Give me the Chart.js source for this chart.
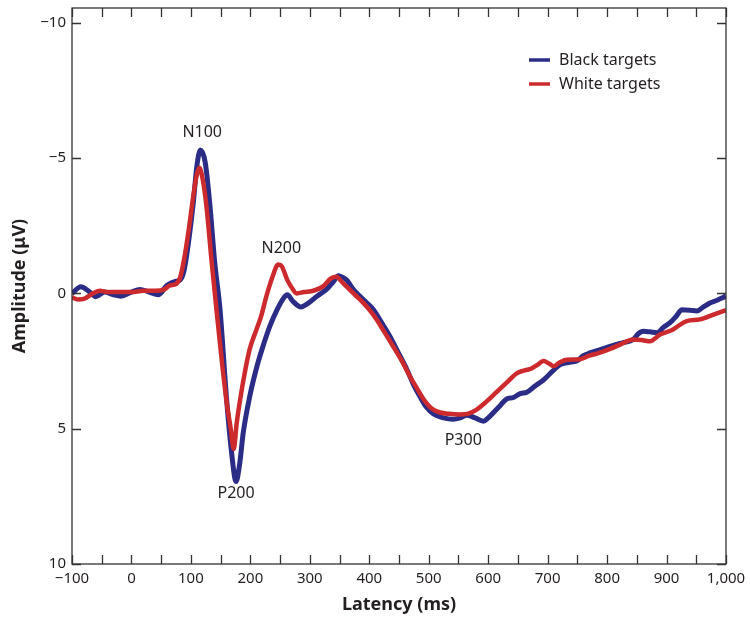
<!DOCTYPE html>
<html>
<head>
<meta charset="utf-8">
<script src="https://cdn.jsdelivr.net/npm/chart.js@4"></script>
<style>
  body { margin: 0; background: #fff; }
  #wrap { width: 750px; height: 618px; }
</style>
</head>
<body>
<div id="wrap"><canvas id="chart" width="750" height="618"></canvas></div>
<script>
// Latency (ms) / amplitude (µV)
const blackTimes = [-100, -85, -70, -60, -45, -30, -18, 0, 14, 30, 45, 60, 75, 82, 88, 96, 104, 110, 116, 124, 132, 140, 149, 160, 168, 176, 182, 188, 199, 211, 222, 233, 245, 255, 262, 272, 285, 298, 312, 328, 340, 348, 355, 362, 373, 384, 396, 407, 420, 435, 449, 463, 475, 485, 496, 508, 525, 541, 553, 564, 578, 592, 600, 609, 620, 631, 642, 654, 665, 680, 693, 707, 721, 735, 749, 760, 771, 785, 799, 813, 827, 844, 852, 861, 872, 884, 895, 906, 916, 926, 940, 951, 962, 973, 985, 1000];
const blackAmps = [0.0, -0.25, -0.05, 0.12, -0.05, 0.05, 0.1, -0.05, -0.15, -0.05, 0.05, -0.3, -0.45, -0.5, -0.8, -1.9, -3.35, -4.7, -5.3, -4.85, -3.25, -1.15, 0.6, 3.9, 5.8, 6.95, 6.3, 5.15, 3.8, 2.7, 1.9, 1.2, 0.6, 0.2, 0.05, 0.3, 0.5, 0.35, 0.1, -0.15, -0.45, -0.65, -0.6, -0.5, -0.15, 0.1, 0.35, 0.6, 1.05, 1.6, 2.2, 2.8, 3.4, 3.8, 4.2, 4.45, 4.6, 4.65, 4.6, 4.5, 4.6, 4.72, 4.6, 4.4, 4.15, 3.9, 3.85, 3.7, 3.65, 3.4, 3.2, 2.9, 2.63, 2.55, 2.5, 2.3, 2.2, 2.1, 2.0, 1.9, 1.82, 1.7, 1.5, 1.4, 1.42, 1.45, 1.25, 1.08, 0.85, 0.6, 0.62, 0.65, 0.5, 0.35, 0.25, 0.1];

const whiteTimes = [-100, -90, -80, -65, -53, -40, -20, 0, 20, 40, 55, 65, 75, 82, 88, 96, 104, 110, 114, 120, 126, 135, 143, 152, 160, 167, 172, 177, 183, 190, 199, 210, 218, 227, 237, 247, 253, 262, 270, 278, 290, 306, 323, 335, 345, 353, 362, 376, 390, 400, 412, 426, 440, 455, 468, 480, 491, 505, 519, 535, 552, 565, 580, 597, 614, 631, 648, 660, 670, 682, 693, 703, 710, 720, 732, 754, 770, 788, 805, 822, 844, 860, 872, 889, 911, 923, 934, 956, 979, 1000];
const whiteAmps = [0.15, 0.22, 0.2, 0.0, -0.1, -0.05, -0.05, -0.05, -0.1, -0.1, -0.15, -0.3, -0.35, -0.6, -1.2, -2.3, -3.6, -4.4, -4.65, -4.2, -3.25, -1.15, 0.6, 2.5, 4.0, 5.0, 5.75, 4.8, 3.9, 3.0, 2.05, 1.35, 0.85, 0.1, -0.6, -1.07, -1.0, -0.5, -0.2, 0.0, -0.05, -0.1, -0.27, -0.55, -0.62, -0.45, -0.25, 0.05, 0.35, 0.6, 0.95, 1.45, 1.95, 2.5, 3.05, 3.5, 3.9, 4.25, 4.4, 4.45, 4.47, 4.45, 4.3, 4.0, 3.65, 3.3, 2.95, 2.85, 2.8, 2.65, 2.5, 2.6, 2.69, 2.55, 2.45, 2.43, 2.3, 2.19, 2.05, 1.89, 1.7, 1.73, 1.77, 1.52, 1.33, 1.15, 1.02, 0.96, 0.78, 0.62];

const xTicks = [-100, 0, 100, 200, 300, 400, 500, 600, 700, 800, 900, 1000];
const yTicks = [-10, -5, 0, 5, 10];
const seriesNames = ["Black targets", "White targets"];
const seriesColors = ["#2b2c86", "#cc2a2c"];

// component labels: [text, latency, amplitude]
const peakLabels = [
  ["N100", 119, -5.95],
  ["N200", 252, -1.66],
  ["P200", 176, 7.4],
  ["P300", 558, 5.44]
];

const fmt = v => (v < 0 ? "\u2212" + Math.abs(v) : v.toLocaleString("en-US"));
const FONT = "'Noto Sans', 'Open Sans', sans-serif";
const ink = "#231f20";

const toPoints = (xs, ys) => xs.map((x, i) => ({ x: x, y: ys[i] }));

const framePlugin = {
  id: "frame",
  afterDraw(chart) {
    const ctx = chart.ctx;
    const a = chart.chartArea;
    const xs = chart.scales.x, ys = chart.scales.y;
    ctx.save();
    ctx.strokeStyle = "#333";
    ctx.lineWidth = 1.3;
    ctx.strokeRect(a.left, a.top, a.right - a.left, a.bottom - a.top);

    // inward ticks, every 50 ms on top and bottom
    const tl = 9;
    ctx.beginPath();
    for (let v = xs.min; v <= xs.max; v += 50) {
      const px = Math.round(xs.getPixelForValue(v)) + 0.5;
      ctx.moveTo(px, a.bottom); ctx.lineTo(px, a.bottom - tl);
      ctx.moveTo(px, a.top); ctx.lineTo(px, a.top + tl);
    }
    yTicks.forEach(v => {
      const py = Math.round(ys.getPixelForValue(v)) + 0.5;
      ctx.moveTo(a.left, py); ctx.lineTo(a.left + tl, py);
      ctx.moveTo(a.right, py); ctx.lineTo(a.right - tl, py);
    });
    ctx.stroke();

    // legend
    ctx.font = "16px " + FONT;
    ctx.textBaseline = "middle";
    ctx.textAlign = "left";
    seriesNames.forEach((name, i) => {
      const y = a.top + 52 + i * 24;
      ctx.strokeStyle = seriesColors[i];
      ctx.lineWidth = 3.5;
      ctx.beginPath();
      ctx.moveTo(a.right - 197, y); ctx.lineTo(a.right - 176, y);
      ctx.stroke();
      ctx.fillStyle = ink;
      ctx.fillText(name, a.right - 167, y);
    });

    // component labels
    ctx.textAlign = "center";
    peakLabels.forEach(([t, x, y]) => {
      ctx.fillText(t, xs.getPixelForValue(x), ys.getPixelForValue(y));
    });
    ctx.restore();
  }
};

new Chart(document.getElementById("chart"), {
  type: "line",
  data: {
    datasets: [
      {
        label: seriesNames[0],
        data: toPoints(blackTimes, blackAmps),
        borderColor: seriesColors[0],
        borderWidth: 5,
        pointRadius: 0,
        cubicInterpolationMode: "monotone",
        order: 1
      },
      {
        label: seriesNames[1],
        data: toPoints(whiteTimes, whiteAmps),
        borderColor: seriesColors[1],
        borderWidth: 4.5,
        pointRadius: 0,
        cubicInterpolationMode: "monotone",
        order: 0
      }
    ]
  },
  options: {
    responsive: false,
    animation: false,
    layout: { padding: { top: 8, right: 24, left: 0, bottom: 0 } },
    plugins: { legend: { display: false }, tooltip: { enabled: false } },
    scales: {
      x: {
        type: "linear",
        min: -100,
        max: 1000,
        afterBuildTicks: s => { s.ticks = xTicks.map(v => ({ value: v })); },
        afterFit: s => { s.height = 54; s.paddingLeft = 0; s.paddingRight = 0; },
        grid: { display: false, drawTicks: false },
        border: { display: false },
        ticks: {
          callback: v => fmt(v),
          autoSkip: false,
          maxRotation: 0,
          padding: 6,
          color: ink,
          font: { family: FONT, size: 15 }
        },
        title: {
          display: true,
          text: "Latency (ms)",
          color: ink,
          padding: { top: 0, bottom: 2 },
          font: { family: FONT, size: 18, weight: "bold" }
        }
      },
      y: {
        type: "linear",
        reverse: true,
        min: -10.55,
        max: 10,
        afterBuildTicks: s => { s.ticks = yTicks.map(v => ({ value: v })); },
        afterFit: s => { s.width = 72; s.paddingTop = 0; s.paddingBottom = 0; },
        grid: { display: false, drawTicks: false },
        border: { display: false },
        ticks: {
          callback: v => fmt(v),
          padding: 6,
          color: ink,
          font: { family: FONT, size: 15 }
        },
        title: {
          display: true,
          text: "Amplitude (\u03bcV)",
          color: ink,
          padding: { top: 9, bottom: 0 },
          font: { family: FONT, size: 18, weight: "bold" }
        }
      }
    }
  },
  plugins: [framePlugin]
});
</script>
</body>
</html>
